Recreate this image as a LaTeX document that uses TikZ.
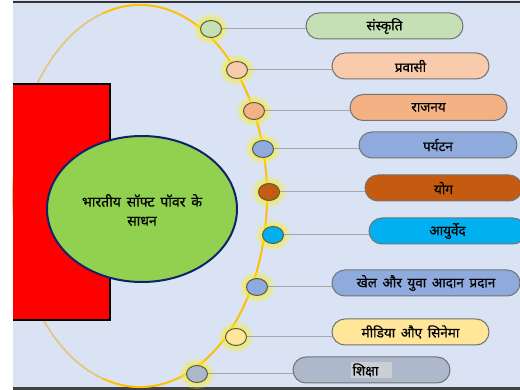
\documentclass[tikz,border=0pt]{standalone}
\usepackage{fontspec}
\newfontfamily\hindi[Script=Devanagari,FakeBold=0.6,WordSpace=1.6]{Noto Sans}
\usetikzlibrary{shapes.geometric,shapes.misc}
\definecolor{hatter}{HTML}{DAE3F3}
\definecolor{arany}{HTML}{FFC000}
\definecolor{fakoarany}{HTML}{E2C784}
\definecolor{zold}{HTML}{92D050}
\definecolor{sotetkek}{HTML}{0F2466}
\definecolor{sz1}{HTML}{C5E0B4}
\definecolor{sz2}{HTML}{F8CBAD}
\definecolor{sz3}{HTML}{F4B183}
\definecolor{sz4}{HTML}{8FAADC}
\definecolor{sz5}{HTML}{C55A11}
\definecolor{sz6}{HTML}{00B0F0}
\definecolor{sz8}{HTML}{FFE699}
\definecolor{sz9}{HTML}{ADB9CA}
\definecolor{kiemel}{HTML}{CBCED3}
\tikzset{
  gomb/.style={ellipse,draw=black!65,line width=1pt,minimum width=21pt,minimum height=17pt,inner sep=0pt,
    preaction={draw=yellow,draw opacity=.25,line width=13pt},
    preaction={draw=yellow,draw opacity=.4,line width=6pt}},
  tabla/.style={rounded rectangle,draw=black!55,line width=1pt,minimum width=157pt,minimum height=26pt,
    inner sep=0pt,font=\hindi\fontsize{13.5}{15}\selectfont},
  vez/.style={draw=black!35,line width=1pt},
}

\begin{document}
\begin{tikzpicture}[x=1pt,y=-1pt]
  \useasboundingbox (0,0) rectangle (520,390);
  \fill[hatter] (13,0) rectangle (520,390);
  \draw[line width=2pt,black!80] (13,2) -- (520,2);
  \draw[line width=3pt,black!75] (13,389) -- (520,389);
  % palya
  \coordinate (K) at (140,196);
  \draw[fakoarany,line width=1.8pt] (K) ellipse [x radius=127,y radius=191];
  \draw[arany,line width=1.8pt] (K) ++(-107:127 and 191)
    arc[start angle=-107,end angle=107,x radius=127,y radius=191];
  \fill[red] (13,84) rectangle (110,320);
  \draw[line width=1.5pt] (13,84) -- (110,84) -- (110,320) -- (13,320);
  \node[ellipse,fill=zold,draw=sotetkek,line width=2pt,minimum width=190,minimum height=146,inner sep=0pt]
    (fo) at (142,209) {};
  \node[align=center,font=\hindi\fontsize{14}{19}\selectfont] (cim) at (142,210)
    {भारतीय सॉफ्ट पॉवर के\\साधन};
  % gombok
  \node[gomb,fill=sz1] (g1) at (211,29) {};
  \node[gomb,fill=sz2] (g2) at (237,70) {};
  \node[gomb,fill=sz3] (g3) at (254,111) {};
  \node[gomb,fill=sz4] (g4) at (263,149) {};
  \node[gomb,fill=sz5] (g5) at (269,192) {};
  \node[gomb,fill=sz6] (g6) at (273,235) {};
  \node[gomb,fill=sz4] (g7) at (257,287) {};
  \node[gomb,fill=sz8] (g8) at (236,337) {};
  \node[gomb,fill=sz9] (g9) at (197,374) {};
  % tablak
  \node[tabla,fill=sz1] (t1) at (384.5,26) {संस्कृति};
  \node[tabla,fill=sz2] (t2) at (410.5,66) {प्रवासी};
  \node[tabla,fill=sz3] (t3) at (428.5,107.5) {राजनय};
  \node[tabla,fill=sz4,minimum width=158pt] (t4) at (438,145) {पर्यटन};
  \node[tabla,fill=sz5] (t5) at (443.5,188) {योग};
  \node[tabla,fill=sz6] (t6) at (447.5,231) {आयुर्वेद};
  \node[tabla,fill=sz4,minimum width=188pt] (t7) at (426,283) {खेल और युवा आदान प्रदान};
  \node[tabla,fill=sz8] (t8) at (410.5,332) {मीडिया औए सिनेमा};
  \node[tabla,fill=sz9] (t9) at (371.5,370)
    {\setlength{\fboxsep}{1.5pt}\colorbox{kiemel}{शिक्षा\hspace{12pt}}\hspace{12pt}};
  % vezetekek
  \foreach \i in {1,...,9}
    \draw[vez] (g\i) -- (g\i -| t\i.west);
\end{tikzpicture}
\end{document}
